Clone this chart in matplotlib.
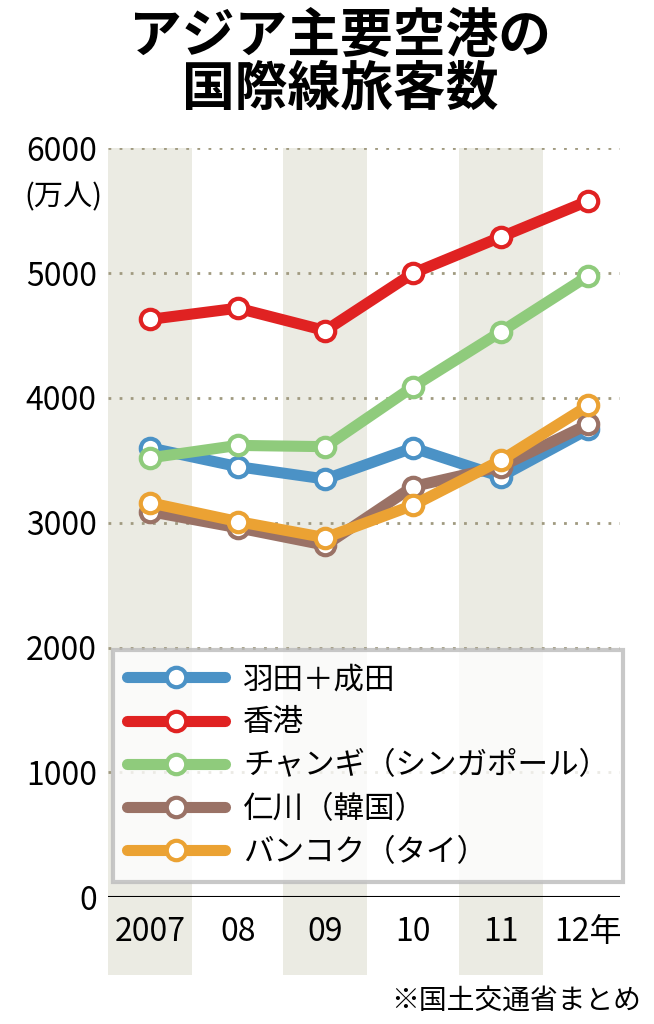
import matplotlib.pyplot as plt

plt.rcParams['font.family'] = ['Noto Sans CJK JP', 'DejaVu Sans']

years = [2007, 2008, 2009, 2010, 2011, 2012]
year_labels = ["2007", "08", "09", "10", "11", "12年"]
haneda_narita = [3600, 3450, 3350, 3600, 3370, 3750]
hong_kong = [4630, 4720, 4540, 5000, 5290, 5580]
changi = [3520, 3620, 3610, 4090, 4530, 4980]
incheon = [3090, 2960, 2820, 3290, 3450, 3790]
bangkok = [3160, 3010, 2880, 3140, 3500, 3940]

series = [
    ("羽田＋成田", haneda_narita, "#4b92c6"),
    ("香港", hong_kong, "#e02222"),
    ("チャンギ（シンガポール）", changi, "#8fcb7c"),
    ("仁川（韓国）", incheon, "#9a7266"),
    ("バンコク（タイ）", bangkok, "#eba233"),
]

fig = plt.figure(figsize=(6.54, 10.24), dpi=100)
ax = fig.add_axes([0.165, 0.124, 0.783, 0.731])
ax.set_xlim(2006.52, 2012.36)
ax.set_ylim(0, 6000)

for y in [2007, 2009, 2011]:
    ax.axvspan(y - 0.48, y + 0.48, ymin=-0.104, ymax=1, color="#ebebe3",
               clip_on=False, zorder=0, lw=0)

for v in range(1000, 7000, 1000):
    ax.axhline(v, color="#a09a80", ls=(0, (1, 3)), lw=2, zorder=1)
ax.axhline(0, color="black", lw=1.5, zorder=2)

for name, vals, c in series:
    ax.plot(years, vals, color=c, lw=8, marker="o", ms=14, mfc="white",
            mec=c, mew=3, label=name, zorder=3, solid_capstyle="round")

for s in ax.spines.values():
    s.set_visible(False)
ax.tick_params(length=0, labelsize=23, pad=8)
ax.set_yticks(range(0, 7000, 1000))
ax.set_xticks(years)
ax.set_xticklabels(year_labels)
ax.tick_params(axis="x", pad=14)
ax.text(-0.01, 0.935, "(万人)", transform=ax.transAxes, ha="right",
        va="center", fontsize=21)

leg = ax.legend(loc="lower right", bbox_to_anchor=(1.035, 0.0), fontsize=22,
                handlelength=3.2, labelspacing=0.4, frameon=True,
                fancybox=False, borderpad=0.45, handletextpad=0.6)
leg.get_frame().set_edgecolor("#bbbbbb")
leg.get_frame().set_linewidth(3)
leg.set_zorder(5)

fig.text(0.52, 0.99, "アジア主要空港の\n国際線旅客数", ha="center", va="top",
         fontsize=38, fontweight="bold", linespacing=1.0)
fig.text(0.98, 0.008, "※国土交通省まとめ", ha="right", va="bottom",
         fontsize=20)

fig.savefig("out.png", dpi=100)
